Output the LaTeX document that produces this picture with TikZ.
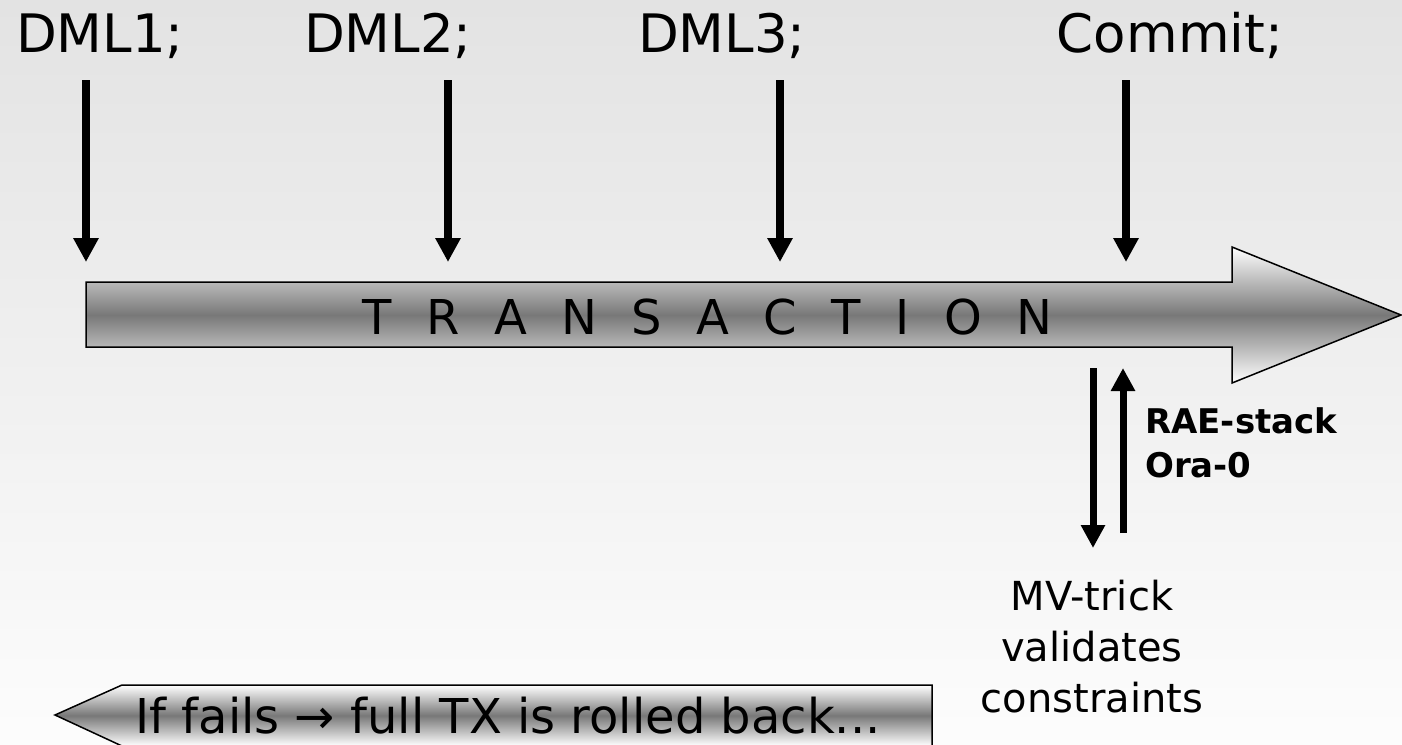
\documentclass[tikz,border=0pt]{standalone}
\usepackage{fontspec}
\setmainfont{DejaVu Sans}
\usetikzlibrary{arrows.meta}
\newcommand{\spreadgap}{\hspace{34.4pt}}
\begin{document}
\begin{tikzpicture}[x=1pt,y=-1pt,
  lbl/.style={inner sep=0pt, anchor=base},
  big/.style={font=\fontsize{53}{64}\selectfont},
  stepdown/.style={line width=8pt, -{Triangle[width=24pt,length=24pt]}},
  valarrow/.style={line width=7pt, -{Triangle[width=23pt,length=23pt]}},
  outline/.style={draw=black, line width=1.5pt, line join=miter},
  metal/.style={top color=white, bottom color=white, middle color=black!53},
]
\useasboundingbox (0,0) rectangle (1402,744);
% backdrop
\shade[top color=black!11, bottom color=black!1] (0,0) rectangle (1402,744);

% statements issued during the transaction
\node[lbl, big] (dml1) at (100,52) {DML1;};
\node[lbl, big] (dml2) at (388,52) {DML2;};
\node[lbl, big] (dml3) at (722,52) {DML3;};
\node[lbl, big] (commit) at (1170,52) {Commit;};

\coordinate (s1) at (86,80);   \coordinate (t1) at (86,262);
\coordinate (s2) at (448,80);  \coordinate (t2) at (448,262);
\coordinate (s3) at (780,80);  \coordinate (t3) at (780,262);
\coordinate (s4) at (1126,80); \coordinate (t4) at (1126,262);
\draw[stepdown] (s1) -- (t1);
\draw[stepdown] (s2) -- (t2);
\draw[stepdown] (s3) -- (t3);
\draw[stepdown] (s4) -- (t4);

% the transaction timeline
\shadedraw[outline, metal]
  (86,282) -- (1232,282) -- (1232,247) -- (1401,315) -- (1232,383)
  -- (1232,347) -- (86,347) -- cycle;
\node[lbl, font=\fontsize{48}{58}\selectfont] (tx) at (707.5,334)
  {T\spreadgap R\spreadgap A\spreadgap N\spreadgap S\spreadgap A\spreadgap
   C\spreadgap T\spreadgap I\spreadgap O\spreadgap N};

% validation round trip at commit time
\coordinate (dnA) at (1093,368); \coordinate (dnB) at (1093,548);
\coordinate (upA) at (1123,533); \coordinate (upB) at (1123,368);
\draw[valarrow] (dnA) -- (dnB);
\draw[valarrow] (upA) -- (upB);

% multi-line labels: the base anchor sits on the last line
\node[inner sep=0pt, anchor=base west, align=left,
      font=\fontsize{34}{44}\selectfont\bfseries] (rae) at (1145,477)
  {RAE-stack\\Ora-0};

\node[inner sep=0pt, anchor=base, align=center,
      font=\fontsize{40}{51}\selectfont] (mv) at (1092,712)
  {MV-trick\\validates\\constraints};

% rollback path
\shadedraw[outline, metal]
  (932,685) -- (122,685) -- (55,715) -- (122,746) -- (932,746) -- cycle;
\node[lbl, font=\fontsize{48}{58}\selectfont] (fail) at (508,733)
  {If fails → full TX is rolled back...};
\end{tikzpicture}
\end{document}
